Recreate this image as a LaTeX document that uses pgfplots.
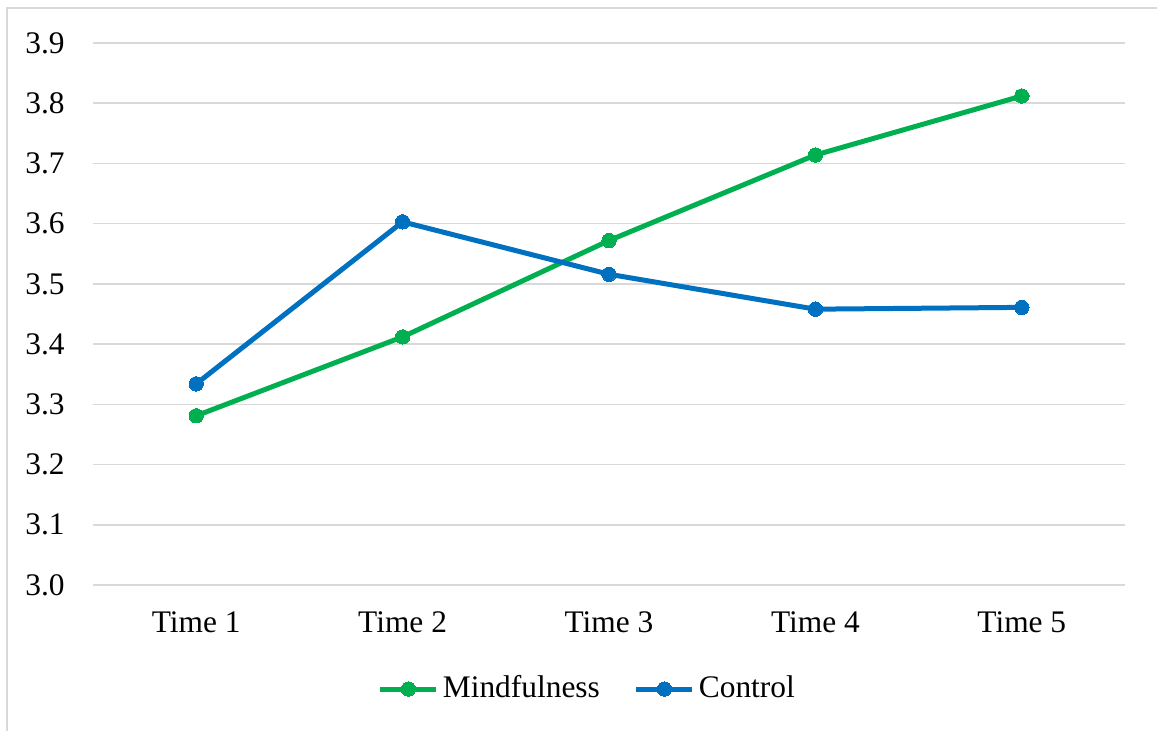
\documentclass[border=0pt]{standalone}
\usepackage{pgfplots}
\pgfplotsset{compat=1.18}
\usepackage{fontspec}
\setmainfont{Liberation Serif}
\definecolor{mgreen}{HTML}{00B050}
\definecolor{cblue}{HTML}{0070C0}
\definecolor{gridgray}{HTML}{D9D9D9}
\newcommand{\chartfont}{\rmfamily\fontsize{15.7}{19}\selectfont}
\begin{document}
\chartfont
\begin{tikzpicture}[x=1pt,y=1pt]
\path[use as bounding box] (0,0) rectangle (578.5,365.5);
\draw[gridgray, line width=0.9pt] (3.5,0) -- (3.5,361.5) -- (578.5,361.5);
\begin{axis}[
  at={(46.5pt,73pt)}, anchor=south west,
  scale only axis, width=516pt, height=271pt,
  xmin=-0.5, xmax=4.5, ymin=3.0, ymax=3.9,
  xtick={0,1,2,3,4}, xticklabels={Time 1,Time 2,Time 3,Time 4,Time 5},
  ytick={3.0,3.1,3.2,3.3,3.4,3.5,3.6,3.7,3.8,3.9},
  /pgf/number format/assume math mode=true,
  yticklabel={\pgfmathprintnumber[fixed,precision=1,zerofill]{\tick}},
  axis line style={draw=none},
  major tick length=0pt,
  ymajorgrids, grid style={gridgray, line width=0.75pt},
  y tick label style={anchor=east, inner sep=0pt, xshift=-14pt, font=\chartfont},
  x tick label style={anchor=north, inner sep=0pt, yshift=-13pt, font=\chartfont},
  clip=false,
  legend columns=2,
  legend style={draw=none, fill=none, at={(0.48,-0.192)}, anchor=center,
    font=\chartfont, inner sep=0pt,
    /tikz/every even column/.append style={column sep=15pt}},
  legend cell align=left,
  legend image code/.code={\draw[mark repeat=2,mark phase=2,#1] plot coordinates {(0pt,0pt)(14pt,0pt)(28pt,0pt)};},
]
\addplot[mgreen, line width=2.5pt, mark=*, mark size=3.6pt, mark options={solid, line width=0pt}] coordinates {
 (0,3.281) (1,3.412) (2,3.572) (3,3.714) (4,3.812)};
\addlegendentry{Mindfulness}
\addplot[cblue, line width=2.5pt, mark=*, mark size=3.6pt, mark options={solid, line width=0pt}] coordinates {
 (0,3.334) (1,3.603) (2,3.516) (3,3.458) (4,3.461)};
\addlegendentry{Control}
\end{axis}
\end{tikzpicture}
\end{document}
